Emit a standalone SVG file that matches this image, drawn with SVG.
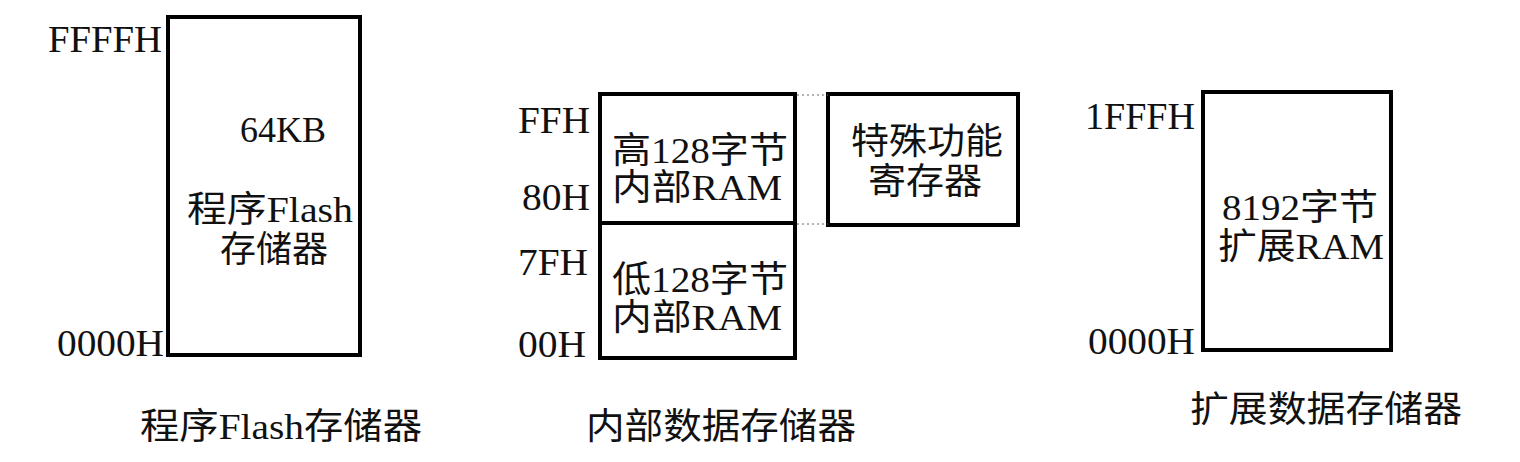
<svg xmlns="http://www.w3.org/2000/svg" width="1520" height="462" viewBox="0 0 1520 462">
<style>
.b{fill:none;stroke:#000;stroke-width:4}
.t{font-family:"Liberation Serif","Noto Sans CJK SC",serif;font-size:36px;fill:#111}
.a{font-family:"Liberation Serif",serif;font-size:37px;fill:#111}
.d{stroke:#666;stroke-width:1;stroke-dasharray:2 3}
</style>
<rect width="1520" height="462" fill="#fff"/>
<g id="flash">
<rect class="b" x="168" y="17" width="192" height="338"/>
<text class="t" x="240" y="142">64KB</text>
<text class="t" x="187" y="222" textLength="166" lengthAdjust="spacingAndGlyphs">程序Flash</text>
<text class="t" x="220" y="262">存储器</text>
<text class="a" x="48" y="52" textLength="114" lengthAdjust="spacingAndGlyphs">FFFFH</text>
<text class="a" x="57" y="356" textLength="107" lengthAdjust="spacingAndGlyphs">0000H</text>
<text class="t" x="140" y="439" textLength="282" lengthAdjust="spacingAndGlyphs">程序Flash存储器</text>
</g>
<g id="hiram">
<rect class="b" x="600" y="94" width="195" height="129"/>
<text class="t" x="612" y="163" textLength="176" lengthAdjust="spacingAndGlyphs">高128字节</text>
<text class="t" x="612" y="200" textLength="170" lengthAdjust="spacingAndGlyphs">内部RAM</text>
<text class="a" x="518" y="133" textLength="72" lengthAdjust="spacingAndGlyphs">FFH</text>
<text class="a" x="522" y="210" textLength="68" lengthAdjust="spacingAndGlyphs">80H</text>
</g>
<g id="loram">
<rect class="b" x="600" y="223" width="195" height="135"/>
<text class="t" x="612" y="292" textLength="176" lengthAdjust="spacingAndGlyphs">低128字节</text>
<text class="t" x="612" y="330" textLength="170" lengthAdjust="spacingAndGlyphs">内部RAM</text>
<text class="a" x="518" y="275" textLength="70" lengthAdjust="spacingAndGlyphs">7FH</text>
<text class="a" x="518" y="357" textLength="68" lengthAdjust="spacingAndGlyphs">00H</text>
<text class="t" x="586" y="439" textLength="270" lengthAdjust="spacingAndGlyphs">内部数据存储器</text>
</g>
<g id="sfr">
<rect class="b" x="828" y="94" width="190" height="131"/>
<text class="t" x="851" y="154" textLength="152" lengthAdjust="spacingAndGlyphs">特殊功能</text>
<text class="t" x="868" y="194" textLength="114" lengthAdjust="spacingAndGlyphs">寄存器</text>
</g>
<g id="xram">
<rect class="b" x="1203" y="92" width="188" height="258"/>
<text class="t" x="1222" y="220" textLength="156" lengthAdjust="spacingAndGlyphs">8192字节</text>
<text class="t" x="1218" y="259" textLength="166" lengthAdjust="spacingAndGlyphs">扩展RAM</text>
<text class="a" x="1085" y="129" textLength="110" lengthAdjust="spacingAndGlyphs">1FFFH</text>
<text class="a" x="1088" y="354" textLength="107" lengthAdjust="spacingAndGlyphs">0000H</text>
<text class="t" x="1190" y="422" textLength="272" lengthAdjust="spacingAndGlyphs">扩展数据存储器</text>
</g>
<g id="connectors">
<line class="d" x1="797" y1="95" x2="828" y2="95"/>
<line class="d" x1="797" y1="224" x2="828" y2="224"/>
</g>
</svg>
